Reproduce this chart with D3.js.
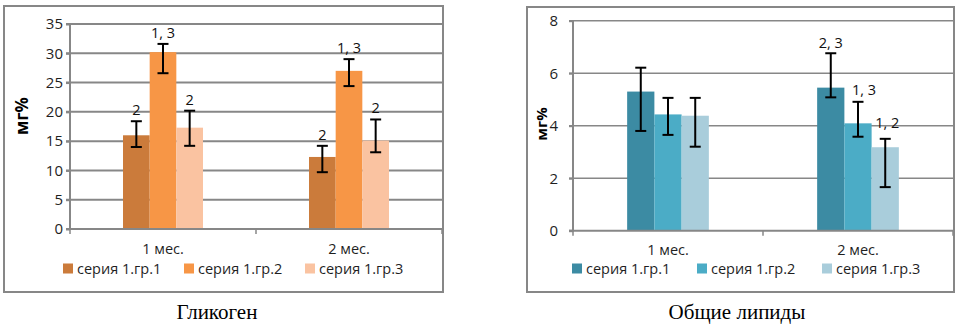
<!DOCTYPE html>
<html><head><meta charset="utf-8">
<script src="https://cdn.jsdelivr.net/npm/d3@7"></script>
<style>body{margin:0;background:#fff}svg{display:block}</style>
</head><body>
<svg id="c" width="960" height="336"></svg>
<script>
const categories = ["1 мес.", "2 мес."];
const seriesNames = ["серия 1.гр.1", "серия 1.гр.2", "серия 1.гр.3"];

// Гликоген
const glycValues = [[16.0, 12.3], [30.2, 27.0], [17.3, 15.1]];
const glycErrHigh = [[18.4, 14.2], [31.6, 29.0], [20.2, 18.7]];
const glycErrLow  = [[14.0, 9.7], [26.6, 24.4], [14.2, 13.1]];
const glycLabels  = [["2", "2"], ["1, 3", "1, 3"], ["2", "2"]];
const glycTicks = [0, 5, 10, 15, 20, 25, 30, 35];
const glycTitle = "Гликоген";

// Общие липиды
const lipValues = [[5.3, 5.45], [4.43, 4.09], [4.38, 3.18]];
const lipErrHigh = [[6.21, 6.76], [5.06, 4.91], [5.06, 3.5]];
const lipErrLow  = [[3.80, 5.08], [3.65, 3.58], [3.2, 1.66]];
const lipLabels  = [["", "2, 3"], ["", "1, 3"], ["", "1, 2"]];
const lipTicks = [0, 2, 4, 6, 8];
const lipTitle = "Общие липиды";

const yTitle = "мг%";

const svg = d3.select("#c");
const FONT = "'Open Sans', sans-serif";

function drawChart(o) {
  const g = svg.append("g");
  // outer box
  g.append("rect").attr("x", o.box[0]).attr("y", o.box[1])
    .attr("width", o.box[2] - o.box[0]).attr("height", o.box[3] - o.box[1])
    .attr("fill", "#fff").attr("stroke", "#878787").attr("stroke-width", 2);

  const y = d3.scaleLinear().domain([0, d3.max(o.ticks)]).range([o.plot[3], o.plot[1]]);
  const x0 = d3.scaleBand().domain(categories).range([o.plot[0], o.plot[2]]).padding(0);
  const bw = x0.bandwidth();
  const x1 = d3.scaleBand().domain(d3.range(seriesNames.length)).range([bw * 0.285, bw * 0.715]).padding(0);

  // gridlines
  g.selectAll(".grid").data(o.ticks.filter(t => t > 0)).join("line")
    .attr("x1", o.plot[0] - 4).attr("x2", o.plot[2])
    .attr("y1", d => y(d)).attr("y2", d => y(d))
    .attr("stroke", "#878787").attr("stroke-width", o.gridW);

  // y axis
  const ya = g.append("g").attr("transform", `translate(${o.plot[0]},0)`)
    .call(d3.axisLeft(y).tickValues(o.ticks).tickSize(4).tickPadding(o.tickPad).tickFormat(d3.format("d")));
  ya.select(".domain").attr("stroke", "#878787").attr("stroke-width", 2).attr("d", `M-4,${y(0)}H0V${o.plot[1]}`);
  ya.selectAll(".tick line").attr("stroke", "#878787").attr("stroke-width", 2);
  ya.selectAll("text").attr("font-family", FONT).attr("font-size", 15).attr("fill", "#1f1f1f");

  // bars
  seriesNames.forEach((s, si) => {
    g.selectAll(".bar" + si).data(categories).join("rect")
      .attr("x", c => x0(c) + x1(si))
      .attr("width", x1.bandwidth())
      .attr("y", (c, ci) => y(o.values[si][ci]))
      .attr("height", (c, ci) => y(0) - y(o.values[si][ci]))
      .attr("fill", o.colors[si]);
  });

  // x axis baseline
  g.append("line").attr("x1", o.plot[0] - 4).attr("x2", o.plot[2])
    .attr("y1", y(0)).attr("y2", y(0)).attr("stroke", "#878787").attr("stroke-width", 2);
  // x ticks at category boundaries
  const bounds = categories.map(c => x0(c)).concat([o.plot[2]]);
  g.selectAll(".xt").data(bounds).join("line")
    .attr("x1", d => d).attr("x2", d => d)
    .attr("y1", y(0)).attr("y2", y(0) + 5)
    .attr("stroke", "#878787").attr("stroke-width", 1.5);

  // error bars and labels
  seriesNames.forEach((s, si) => {
    categories.forEach((c, ci) => {
      const cx = x0(c) + x1(si) + x1.bandwidth() / 2;
      const hi = y(o.errHigh[si][ci]), lo = y(o.errLow[si][ci]);
      g.append("line").attr("x1", cx).attr("x2", cx).attr("y1", hi).attr("y2", lo)
        .attr("stroke", "#000").attr("stroke-width", 2);
      [hi, lo].forEach(yy => g.append("line").attr("x1", cx - 5.5).attr("x2", cx + 5.5)
        .attr("y1", yy).attr("y2", yy).attr("stroke", "#000").attr("stroke-width", 2));
      const lbl = o.labels[si][ci];
      if (lbl) {
        g.append("text").attr("x", cx + (o.labelDx ? o.labelDx[si] : 0))
          .attr("y", hi - (o.labelDy ? o.labelDy[si] : 6))
          .attr("text-anchor", "middle").attr("font-family", FONT).attr("font-size", 14.5)
          .attr("fill", "#111").text(lbl);
      }
    });
  });

  // category labels
  g.selectAll(".cat").data(categories).join("text")
    .attr("x", c => x0(c) + bw / 2).attr("y", o.catY)
    .attr("text-anchor", "middle").attr("font-family", FONT).attr("font-size", 14.5)
    .attr("fill", "#1f1f1f").text(c => c);

  // y title
  g.append("text").attr("transform", `translate(${o.yTitleX},${o.yTitleY}) rotate(-90)`)
    .attr("text-anchor", "middle").attr("font-family", FONT).attr("font-weight", "bold")
    .attr("font-size", o.yTitleSize).attr("fill", "#000").text(yTitle);

  // legend
  seriesNames.forEach((s, si) => {
    const lx = o.legendX[si];
    g.append("rect").attr("x", lx).attr("y", o.legendY - 5).attr("width", 10).attr("height", 10)
      .attr("fill", o.colors[si]);
    g.append("text").attr("x", lx + 14).attr("y", o.legendY + 5)
      .attr("font-family", FONT).attr("font-size", 14.5).attr("fill", "#1f1f1f").text(s);
  });

  // caption
  svg.append("text").attr("x", o.captionX).attr("y", 319).attr("text-anchor", "middle")
    .attr("font-family", "'Liberation Serif', serif").attr("font-size", 21).attr("fill", "#000")
    .text(o.caption);
}

drawChart({
  box: [4, 6, 443, 292], plot: [70, 24, 442, 229],
  values: glycValues, errHigh: glycErrHigh, errLow: glycErrLow, labels: glycLabels,
  ticks: glycTicks, colors: ["#CB7B3B", "#F79646", "#FAC3A1"], gridW: 2, tickPad: 3,
  catY: 254, legendX: [63, 184, 305], legendY: 268.5, yTitleX: 28, yTitleY: 116, yTitleSize: 17,
  caption: glycTitle, captionX: 217
});

drawChart({
  box: [527, 7, 954, 292], plot: [573, 20.7, 953, 230.7],
  values: lipValues, errHigh: lipErrHigh, errLow: lipErrLow, labels: lipLabels,
  ticks: lipTicks, colors: ["#3C8BA3", "#4BACC6", "#A9CDDB"], gridW: 1.5, tickPad: 11,
  labelDx: [0, 6, 2], labelDy: [5, 7, 11],
  catY: 255, legendX: [572, 697, 822], legendY: 268.5, yTitleX: 547, yTitleY: 124, yTitleSize: 15,
  caption: lipTitle, captionX: 737
});
</script>
</body></html>
